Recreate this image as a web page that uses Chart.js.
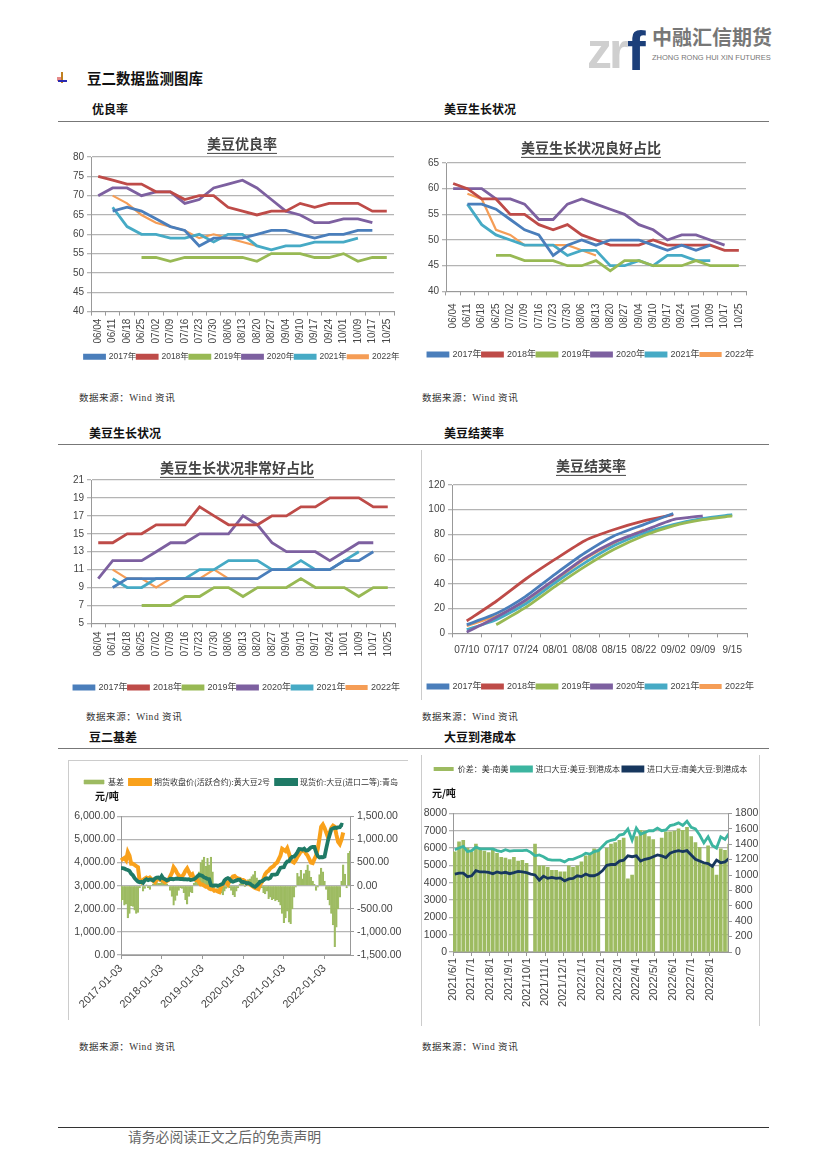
<!DOCTYPE html>
<html lang="zh-CN">
<head>
<meta charset="utf-8">
<title>豆二数据监测图库</title>
<script src="https://cdn.jsdelivr.net/npm/chart.js@4/dist/chart.umd.min.js"></script>
<style>
  html, body { margin: 0; padding: 0; background: #fff; }
  #page { position: relative; width: 826px; height: 1169px; overflow: hidden; background: #fff;
    font-family: "Noto Sans CJK SC", sans-serif; color: #111; }
  #page canvas { position: absolute; filter: blur(0.35px); }
  .txt { position: absolute; white-space: nowrap; line-height: 1; }
  .head { font-size: 12px; font-weight: 700; }
  .src { font-family: "Liberation Serif", "Noto Sans CJK SC", serif; font-size: 9.5px; color: #333; letter-spacing: .55px; }
  .rule { position: absolute; left: 58px; width: 711px; height: 1.4px; background: #777; }
  .frame { position: absolute; background: #ccc; }
</style>
</head>
<body>
<div id="page">
  <div class="txt" style="left:587px;top:22px;font:700 50px 'Liberation Sans';color:#cfcfcf;letter-spacing:-3px">zr</div>
  <div class="txt" style="left:627px;top:18px;font:700 56px 'Liberation Sans';color:#1c3f7a">f</div>
  <div class="txt" style="left:652px;top:27px;font-size:20px;font-weight:700;color:#777">中融汇信期货</div>
  <div class="txt" style="left:652px;top:53px;font:7.5px 'Liberation Sans';color:#777">ZHONG RONG HUI XIN FUTURES</div>

  <div style="position:absolute;left:57px;top:77px;width:6px;height:4px;background:#e58a8a"></div>
  <div style="position:absolute;left:61px;top:72px;width:2px;height:11px;background:#c08020"></div>
  <div style="position:absolute;left:58px;top:80px;width:9px;height:2px;background:#2a2ab0"></div>
  <div class="txt" style="left:87px;top:71px;font-size:14.5px;font-weight:700">豆二数据监测图库</div>

  <div class="txt head" style="left:92px;top:103px">优良率</div>
  <div class="txt head" style="left:444px;top:103px">美豆生长状况</div>
  <div class="rule" style="top:121px"></div>
  <div class="txt head" style="left:89px;top:427px">美豆生长状况</div>
  <div class="txt head" style="left:444px;top:427px">美豆结荚率</div>
  <div class="rule" style="top:444px"></div>
  <div class="txt head" style="left:89px;top:731px">豆二基差</div>
  <div class="txt head" style="left:444px;top:731px">大豆到港成本</div>
  <div class="rule" style="top:748px"></div>

  <canvas id="goodRate"></canvas>
  <canvas id="goodShare"></canvas>
  <canvas id="excellentShare"></canvas>
  <canvas id="podRate"></canvas>
  <canvas id="basisChart"></canvas>
  <canvas id="costChart"></canvas>

  <div class="frame" style="left:421px;top:450px;width:1px;height:250px"></div>
  <div class="frame" style="left:68px;top:760px;width:1px;height:260px"></div>
  <div class="frame" style="left:68px;top:760px;width:340px;height:1px"></div>
  <div class="frame" style="left:421px;top:755px;width:1px;height:271px"></div>
  <div class="frame" style="left:759px;top:755px;width:1px;height:271px"></div>

  <div class="txt" style="left:95px;top:791px;font-size:10px;font-weight:700">元/吨</div>
  <div class="txt" style="left:432px;top:788px;font-size:10px;font-weight:700">元/吨</div>

  <div class="txt src" style="left:79px;top:394px">数据来源：Wind 资讯</div>
  <div class="txt src" style="left:422px;top:394px">数据来源：Wind 资讯</div>
  <div class="txt src" style="left:86px;top:713px">数据来源：Wind 资讯</div>
  <div class="txt src" style="left:422px;top:713px">数据来源：Wind 资讯</div>
  <div class="txt src" style="left:79px;top:1043px">数据来源：Wind 资讯</div>
  <div class="txt src" style="left:422px;top:1043px">数据来源：Wind 资讯</div>

  <div class="rule" style="top:1127px;background:#333"></div>
  <div class="txt" style="left:128px;top:1130px;font-size:13.8px;color:#666">请务必阅读正文之后的免责声明</div>
</div>

<script>
const weekLabels = ["06/04","06/11","06/18","06/25","07/02","07/09","07/16","07/23","07/30","08/06","08/13","08/20","08/27","09/04","09/10","09/17","09/24","10/01","10/09","10/17","10/25"];
const podLabels = ["07/10","07/17","07/24","08/01","08/08","08/15","08/22","09/02","09/09","9/15"];
const yearNames = ["2017年","2018年","2019年","2020年","2021年","2022年"];
const yearColors = ["#4a7ebb","#be4b48","#98b954","#7d60a0","#46aac5","#f59d56"];

const good2017 = [null,66,67,66,64,62,61,57,59,59,59,60,61,61,60,59,60,60,61,61,null];
const good2018 = [75,74,73,73,71,71,69,70,70,67,66,65,66,66,68,67,68,68,68,66,66];
const good2019 = [null,null,null,54,54,53,54,54,54,54,54,53,55,55,55,54,54,55,53,54,54];
const good2020 = [70,72,72,70,71,71,68,69,72,73,74,72,69,66,65,63,63,64,64,63,null];
const good2021 = [null,67,62,60,60,59,59,60,58,60,60,57,56,57,57,58,58,58,59,null,null];
const good2022 = [null,70,68,65,63,62,61,59,60,59,58,57];

const share2017 = [null,57,57,56,54,52,51,47,49,50,49,50,50,50,49,48,49,48,49,null,null];
const share2018 = [61,60,58,58,55,55,53,52,53,51,50,49,49,49,50,49,49,49,49,48,48];
const share2019 = [null,null,null,47,47,46,46,46,45,45,46,44,46,46,45,45,45,46,45,45,45];
const share2020 = [60,60,60,58,58,57,54,54,57,58,57,56,55,53,52,50,51,51,50,49,null];
const share2021 = [null,57,53,51,50,49,49,49,47,48,48,45,45,46,45,47,47,46,46,null,null];
const share2022 = [null,59,58,52,51,49,49,49,49,48,47];

const best2017 = [null,9,10,10,10,10,10,10,10,10,10,10,11,11,11,11,11,12,12,13,null];
const best2018 = [14,14,15,15,16,16,16,18,17,16,16,16,17,17,18,18,19,19,19,18,18];
const best2019 = [null,null,null,7,7,7,8,8,9,9,8,9,9,9,10,9,9,9,8,9,9];
const best2020 = [10,12,12,12,13,14,14,15,15,15,17,16,14,13,13,13,12,13,14,14,null];
const best2021 = [null,10,9,9,10,10,10,11,11,12,12,12,11,11,12,11,11,12,13,null,null];
const best2022 = [null,11,10,10,9,10,10,10,11,10,10,10];

const pod2017 = [7,16,30,48,65,79,88,97];
const pod2018 = [10,26,44,60,75,84,91,96];
const pod2019 = [null,7,21,38,54,68,79,87,92,95];
const pod2020 = [1,13,27,44,61,74,83,92,95];
const pod2021 = [3,11,24,41,57,71,81,88,93,96];
const pod2022 = [6,14,26,43,60,73,84];

// semi-monthly readings, 2017-01 to 2022-08
const basisYearTicks = ["2017-01-03","2018-01-03","2019-01-03","2020-01-03","2021-01-03","2022-01-03"];
const spotPrice = [
  3760,3760,3740,3700,3680,3640,3520,3450,3330,3250,3180,3150,3170,3120,3230,3280,3240,3270,3260,3230,3310,3350,3360,3300,
  3420,3310,3280,3230,3260,3300,3290,3280,3300,3310,3300,3290,3290,3280,3280,3270,3280,3250,3260,3280,3330,3400,3470,3450,
  3420,3360,3330,3290,3280,3020,3000,3010,3010,3000,3020,3050,3080,3230,3300,3330,3290,3200,3170,3200,3230,3260,3260,3170,
  3160,3150,3100,3120,3090,3030,2980,2950,3010,3080,3170,3190,3240,3300,3320,3300,3340,3470,3480,3480,3500,3640,
  3770,3790,3800,3960,4050,4060,4180,4250,4260,4340,4450,4590,4580,4560,4600,4520,4530,4590,4660,4680,4680,4450,
  4280,4220,4240,4230,4260,4620,4950,5200,5440,5480,5510,5500,5520,5530,5640,5620];
const futuresPrice = [
  4100,4150,4200,4100,4450,4300,3950,3950,3900,3850,3800,3200,3150,3250,3300,3350,3300,3350,3280,3200,3150,3250,3300,3250,
  3300,3200,3150,3200,3250,3400,3550,3800,3700,3550,3450,3350,3400,3500,3650,3750,3600,3450,3500,3300,3250,3250,3150,3050,
  3050,3000,2950,2950,2880,2850,2850,2780,2800,2750,2720,2950,3050,3150,3150,3050,3200,3300,3400,3420,3350,3320,3300,3250,
  3250,3200,3100,3130,3050,3000,2950,2900,2880,2850,3050,3150,3300,3500,3600,3650,3750,3800,3850,3950,4000,4150,
  4300,4600,4550,4500,4620,4400,4150,4050,4000,4100,4250,4350,4480,4500,4550,4400,4300,4150,4000,3980,4150,4300,
  4600,5050,5550,5650,5500,5300,5100,5300,5500,5600,5550,5200,4900,4800,5000,5300];
const basisValue = [
  -340,-300,-420,-400,-700,-600,-430,-450,-530,-600,-580,-50,20,-120,-60,20,-40,-80,10,40,120,100,50,50,
  110,100,130,40,10,-100,-230,-420,-320,-210,-100,-50,-60,-150,-300,-400,-230,-140,-150,50,80,140,300,500,
  560,620,420,590,450,620,300,-50,-20,-60,-100,-160,-200,-120,-60,50,-40,-100,-200,-240,-120,-50,40,50,
  30,-20,40,130,150,200,240,310,170,120,60,-50,-150,-180,-120,-280,-250,-300,-280,-330,-300,-350,-420,-600,
  -800,-700,-550,-790,-820,-500,-250,-30,270,200,330,150,260,340,450,320,180,100,30,-100,-30,240,380,300,
  100,-80,-300,-420,-600,-850,-1320,-900,-500,-250,100,450,250,-50,700,750];

// weekly readings, 2021/6/1 to 2022/8/30
const monthTicks = ["2021/6/1","2021/7/1","2021/8/1","2021/9/1","2021/10/1","2021/11/1","2021/12/1","2022/1/1","2022/2/1","2022/3/1","2022/4/1","2022/5/1","2022/6/1","2022/7/1","2022/8/1"];
const monthDays = [0,30,61,92,122,153,183,214,245,273,304,334,365,395,426];
const usCost = [
  5900,6000,6100,5800,5850, 6050,5950,5950,5950, 5950,5850,5800,5900,5820, 5850,5850,5850,5880,
  5750,5550,5600,5500, 5350,5300,5300,5300,5200, 5350,5350,5450,5550, 5700,5650,5800,5850,
  6100,6350,6450,6500, 6750,6800,7100,6450,7150, 6800,6900,7000,7000, 7150,7000,7050,7300,7350,
  7450,7300,7550,7200, 7100,6750,6300,6650, 6150,6000,6650,6500,6850];
const brCost = [
  4500,4550,4550,4350,4400, 4700,4620,4620,4600, 4520,4620,4550,4600,4520, 4580,4650,4620,4580,
  4500,4450,4150,4380, 4250,4300,4250,4280,4100, 4220,4250,4400,4350, 4500,4400,4400,4500,
  4700,5000,5050,5050, 5250,5300,5550,5500,5550, 5250,5350,5400,5500, 5600,5550,5450,5700,5800,
  5850,5800,5850,5600, 5350,5250,5150,5100, 4950,5300,5150,5200,5400];
const costSpread = [
  1300,1430,1450,1350,1300, 1400,1340,1310,1290, 1330,1280,1230,1220,1200, 1230,1180,1190,1150,
  null,1400,1120,1120, 1100,1060,1060,1040,1040, 1120,1100,1120,1170, 1250,1270,1340,1330,
  null,1350,1400,1420, 1450,1480,950,1000,1500, 1580,1570,1500,1460, null,1480,1560,1560,1570,
  1600,1580,1620,1500, 1420,1360,1150,1380, 1100,1000,1340,1320,1400];

const LATIN = '"Liberation Sans", "Noto Sans CJK SC", sans-serif';
const CJK = '"Noto Sans CJK SC", sans-serif';
const GRID = "#b4b4b4";
const TEXT = "#444";

const titleRule = {
  id: "titleRule",
  afterDraw(chart) {
    const t = chart.titleBlock;
    if (!t || !t.options.display || !t.options.text) return;
    const ctx = chart.ctx;
    ctx.save();
    ctx.font = t.options.font.weight + " " + t.options.font.size + "px " + t.options.font.family;
    const w = ctx.measureText(t.options.text).width;
    const mid = (t.left + t.right) / 2;
    const y = t.top + t.options.padding.top + t.options.font.size * 1.2 + 1;
    ctx.strokeStyle = "#444";
    ctx.lineWidth = 1;
    ctx.beginPath();
    ctx.moveTo(mid - w / 2, y);
    ctx.lineTo(mid + w / 2, y);
    ctx.stroke();
    ctx.restore();
  },
};

function place(id, x, y, w, h) {
  const c = document.getElementById(id);
  c.width = w;
  c.height = h;
  c.style.left = x + "px";
  c.style.top = y + "px";
  c.style.width = w + "px";
  c.style.height = h + "px";
  return c;
}

function yearChart(id, box, title, labels, series, yAxis) {
  const legendSize = box.legendSize || 9;
  const lineH = legendSize * 1.2;
  const legendH = lineH + 10;
  const axisH = box.legendY - box.bottom - 1 - lineH / 2;
  const titleH = box.top - box.canvasTop;
  const padTop = box.titleY - box.canvasTop - 8.4;
  const h = Math.round(titleH + (box.bottom - box.top) + axisH + legendH);
  const canvas = place(id, box.canvasLeft, box.canvasTop, box.canvasRight - box.canvasLeft, h);
  new Chart(canvas, {
    type: "line",
    data: {
      labels,
      datasets: series.map((values, i) => ({
        label: yearNames[i],
        data: values,
        borderColor: yearColors[i],
        backgroundColor: yearColors[i],
        borderWidth: i === 5 ? 2.2 : 2.8,
        pointRadius: 0,
        tension: box.tension || 0,
      })),
    },
    options: {
      responsive: false,
      animation: false,
      plugins: {
        tooltip: { enabled: false },
        title: {
          display: true,
          text: title,
          color: "#444",
          font: { family: CJK, size: 14, weight: "bold", lineHeight: 1.2 },
          padding: { top: padTop, bottom: titleH - 16.8 - padTop },
        },
        legend: {
          position: "bottom",
          labels: {
            boxWidth: 20,
            boxHeight: 3,
            padding: 1,
            color: TEXT,
            font: { family: LATIN, size: legendSize, lineHeight: 1.2 },
          },
        },
      },
      scales: {
        x: {
          offset: true,
          grid: { offset: true, drawOnChartArea: false, color: "#999", tickLength: 4 },
          border: { color: "#999" },
          ticks: {
            autoSkip: false,
            maxRotation: box.flat ? 0 : 90,
            minRotation: box.flat ? 0 : 90,
            padding: box.tickPad,
            color: TEXT,
            font: { family: LATIN, size: 10 },
          },
          afterFit(s) { s.height = axisH; },
        },
        y: {
          min: yAxis.min,
          max: yAxis.max,
          grid: { color: GRID, lineWidth: 1.3, tickLength: 4 },
          border: { color: "#999" },
          ticks: { stepSize: yAxis.step, autoSkip: false, padding: 3, color: TEXT, font: { family: LATIN, size: 10 } },
          afterFit(s) { s.width = box.left - box.canvasLeft; },
        },
        // empty right axis, only holds the gap between plot and canvas edge
        gap: {
          position: "right",
          grid: { drawOnChartArea: false, drawTicks: false },
          border: { display: false },
          ticks: { display: false },
          afterFit(s) { s.width = box.canvasRight - box.right; },
        },
      },
    },
    plugins: [titleRule],
  });
}

yearChart("goodRate",
  { canvasLeft: 66, canvasRight: 418, canvasTop: 128, left: 91, right: 394, top: 157, bottom: 311, titleY: 144, legendY: 357, tickPad: 3, legendSize: 8.5 },
  "美豆优良率", weekLabels, [good2017, good2018, good2019, good2020, good2021, good2022], { min: 40, max: 80, step: 5 });

yearChart("goodShare",
  { canvasLeft: 420, canvasRight: 762, canvasTop: 132, left: 446, right: 746, top: 163, bottom: 291, titleY: 148, legendY: 355, tickPad: 8 },
  "美豆生长状况良好占比", weekLabels, [share2017, share2018, share2019, share2020, share2021, share2022], { min: 40, max: 65, step: 5 });

yearChart("excellentShare",
  { canvasLeft: 66, canvasRight: 408, canvasTop: 452, left: 91, right: 395, top: 480, bottom: 623, titleY: 468, legendY: 688, tickPad: 4 },
  "美豆生长状况非常好占比", weekLabels, [best2017, best2018, best2019, best2020, best2021, best2022], { min: 5, max: 21, step: 2 });

yearChart("podRate",
  { canvasLeft: 423, canvasRight: 759, canvasTop: 450, left: 452, right: 747, top: 485, bottom: 633, titleY: 466, legendY: 687, tickPad: 7, flat: true, tension: 0.2 },
  "美豆结荚率", podLabels, [pod2017, pod2018, pod2019, pod2020, pod2021, pod2022], { min: 0, max: 120, step: 20 });

// empty title, sits under the legend and sets the gap down to the plot
function blankTitle(h) {
  return { display: true, text: "", weight: 500, padding: { top: h - 8, bottom: 0 }, font: { size: 8, lineHeight: 1 } };
}

function legendTop(pad) {
  return {
    position: "top",
    labels: {
      boxWidth: 20,
      boxHeight: 4,
      padding: pad,
      color: "#333",
      font: { family: CJK, size: 8, lineHeight: 1.2 },
      sort: (a, b) => a.datasetIndex - b.datasetIndex,
    },
  };
}

// basis chart, plot 121..350 across, 812..955 down
const money = (v) => v.toLocaleString("en-US", { minimumFractionDigits: 2, maximumFractionDigits: 2 });
const basisDates = [];
for (let y = 2017; y <= 2022; y++) {
  for (let m = 1; m <= 12; m++) {
    if (y === 2022 && m > 8) break;
    const mm = String(m).padStart(2, "0");
    basisDates.push(y + "-" + mm + "-03", y + "-" + mm + "-17");
  }
}

new Chart(place("basisChart", 68, 772, 346, 247), {
  type: "bar",
  data: {
    labels: basisDates,
    datasets: [
      { label: "基差", data: basisValue, yAxisID: "y1", backgroundColor: "#9dbb61", borderColor: "#9dbb61", borderWidth: 0.6, barPercentage: 1, categoryPercentage: 1, order: 3 },
      { type: "line", label: "期货收盘价(活跃合约):黄大豆2号", data: futuresPrice, yAxisID: "y", borderColor: "#f9a11b", backgroundColor: "#f9a11b", borderWidth: 4, pointRadius: 0, order: 2 },
      { type: "line", label: "现货价:大豆(进口二等):青岛", data: spotPrice, yAxisID: "y", borderColor: "#1f7a66", backgroundColor: "#1f7a66", borderWidth: 3.8, pointRadius: 0, order: 1 },
    ],
  },
  options: {
    responsive: false,
    animation: false,
    plugins: { tooltip: { enabled: false }, legend: legendTop(6), title: blankTitle(20.4) },
    scales: {
      x: {
        offset: false,
        grid: { offset: false, drawOnChartArea: false, color: "#999", tickLength: 4 },
        border: { color: "#999" },
        afterBuildTicks(s) { s.ticks = s.ticks.filter((t) => basisYearTicks.includes(basisDates[t.value])); },
        ticks: {
          autoSkip: false,
          maxRotation: 45,
          minRotation: 45,
          color: TEXT,
          font: { family: LATIN, size: 11 },
        },
        afterFit(s) { s.height = 64; },
      },
      y: {
        min: 0,
        max: 6000,
        grid: { color: GRID, lineWidth: 1.3, tickLength: 4 },
        border: { color: "#999" },
        ticks: { stepSize: 1000, autoSkip: false, padding: 2, color: TEXT, font: { family: LATIN, size: 10.5 }, callback: money },
        afterFit(s) { s.width = 53; },
      },
      y1: {
        position: "right",
        min: -1500,
        max: 1500,
        grid: { drawOnChartArea: false, color: "#999", tickLength: 4 },
        border: { color: "#999" },
        ticks: { stepSize: 500, autoSkip: false, padding: 3, color: TEXT, font: { family: LATIN, size: 10.5 }, callback: money },
        afterFit(s) { s.width = 64; },
      },
    },
  },
});

// landed cost chart, plot 453..728 across, 812..952 down
const weekly = (values) => values.map((v, i) => ({ x: i * 7 + 3, y: v }));

new Chart(place("costChart", 415, 762, 351, 256), {
  type: "bar",
  data: {
    datasets: [
      { label: "价差：美-南美", data: weekly(costSpread), yAxisID: "y1", backgroundColor: "#9dbb61", barThickness: 3, order: 3 },
      { type: "line", label: "进口大豆:美豆:到港成本", data: weekly(usCost), yAxisID: "y", borderColor: "#3cb5a0", backgroundColor: "#3cb5a0", borderWidth: 2.8, pointRadius: 0, order: 2 },
      { type: "line", label: "进口大豆:南美大豆:到港成本", data: weekly(brCost), yAxisID: "y", borderColor: "#17375e", backgroundColor: "#17375e", borderWidth: 2.8, pointRadius: 0, order: 1 },
    ],
  },
  options: {
    responsive: false,
    animation: false,
    plugins: { tooltip: { enabled: false }, legend: legendTop(3), title: blankTitle(30.4) },
    scales: {
      x: {
        type: "linear",
        offset: false,
        min: 0,
        max: 456,
        grid: { offset: false, drawOnChartArea: false, color: "#999", tickLength: 4 },
        border: { color: "#999" },
        afterBuildTicks(s) { s.ticks = monthDays.map((d) => ({ value: d })); },
        ticks: {
          autoSkip: false,
          maxRotation: 90,
          minRotation: 90,
          padding: 2,
          color: TEXT,
          font: { family: LATIN, size: 11 },
          callback: (v) => monthTicks[monthDays.indexOf(v)],
        },
        afterFit(s) { s.height = 66; },
      },
      y: {
        min: 0,
        max: 8000,
        grid: { color: GRID, lineWidth: 1.3, tickLength: 4 },
        border: { color: "#999" },
        ticks: { stepSize: 1000, autoSkip: false, padding: 2, color: TEXT, font: { family: LATIN, size: 10.5 }, callback: (v) => String(v) },
        afterFit(s) { s.width = 38; },
      },
      y1: {
        position: "right",
        min: 0,
        max: 1800,
        grid: { drawOnChartArea: false, color: "#999", tickLength: 4 },
        border: { color: "#999" },
        ticks: { stepSize: 200, autoSkip: false, padding: 3, color: TEXT, font: { family: LATIN, size: 10.5 }, callback: (v) => String(v) },
        afterFit(s) { s.width = 38; },
      },
    },
  },
});
</script>
</body>
</html>
